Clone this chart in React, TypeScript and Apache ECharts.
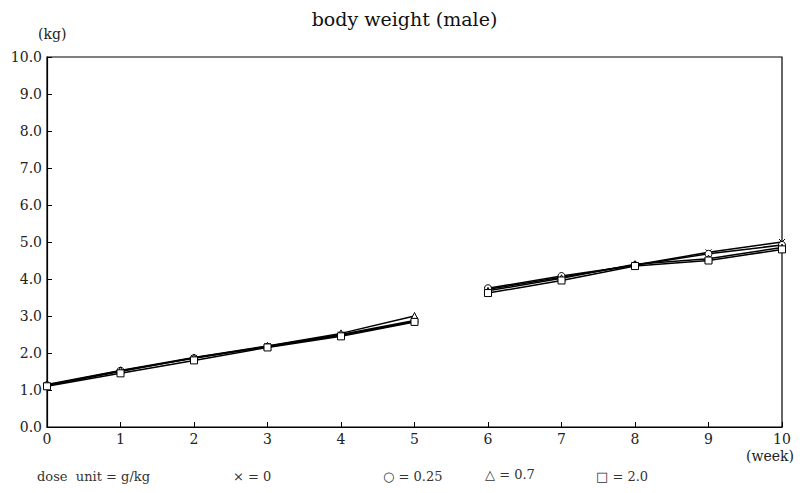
import React, { useEffect, useRef } from "react";
import * as echarts from "echarts";

const weeks = [0, 1, 2, 3, 4, 5, 6, 7, 8, 9, 10];
const dose0 = [1.12, 1.5, 1.87, 2.18, 2.5, 2.88, 3.72, 4.05, 4.38, 4.72, 5.0];
const dose025 = [1.13, 1.52, 1.86, 2.17, 2.48, 2.85, 3.75, 4.08, 4.37, 4.68, 4.92];
const dose07 = [1.15, 1.53, 1.88, 2.19, 2.53, 3.0, 3.68, 4.02, 4.4, 4.55, 4.85];
const dose20 = [1.1, 1.45, 1.8, 2.15, 2.45, 2.84, 3.62, 3.96, 4.35, 4.5, 4.8];
const gapAfterWeek = 5;
const seriesNames = ["×=0", "○=0.25", "△=0.7", "□=2.0"];
const legendTexts = ["dose  unit = g/kg", "× = 0", "○ = 0.25", "△ = 0.7", "□ = 2.0"];

const FONT = "DejaVu Serif";

function buildData(vals: number[]) {
  const out: any[] = [];
  weeks.forEach((w, i) => {
    out.push([w, vals[i]]);
    if (w === gapAfterWeek) out.push([w + 0.5, "-"]);
  });
  return out;
}

export default function App() {
  const ref = useRef<HTMLDivElement>(null);
  useEffect(() => {
    if (!ref.current) return;
    const chart = echarts.init(ref.current, null, { renderer: "svg" });
    const symbols = [
      "path://M0,0L10,10M10,0L0,10",
      "circle",
      "triangle",
      "rect",
    ];
    const allVals = [dose0, dose025, dose07, dose20];
    chart.setOption({
      animation: false,
      backgroundColor: "#fff",
      title: {
        text: "body weight (male)",
        left: "center",
        top: 4,
        textStyle: { fontFamily: FONT, fontSize: 19, fontWeight: "normal", color: "#111" },
      },
      grid: {
        left: 47,
        right: 27,
        top: 57,
        bottom: 66,
        show: true,
        borderColor: "#000",
        borderWidth: 1.2,
      },
      xAxis: {
        type: "value",
        min: 0,
        max: 10,
        interval: 1,
        splitLine: { show: false },
        axisLine: { lineStyle: { color: "#000", width: 1.2 } },
        axisTick: { inside: true, length: 5, lineStyle: { color: "#000" } },
        axisLabel: { fontFamily: FONT, fontSize: 14, color: "#222", margin: 5 },
      },
      yAxis: {
        type: "value",
        min: 0,
        max: 10,
        interval: 1,
        splitLine: { show: false },
        axisLine: { show: true, lineStyle: { color: "#000", width: 1.2 } },
        axisTick: { show: true, inside: true, length: 5, lineStyle: { color: "#000" } },
        axisLabel: {
          fontFamily: FONT,
          fontSize: 14,
          color: "#222",
          margin: 5,
          formatter: (v: number) => v.toFixed(1),
        },
      },
      graphic: [
        { type: "text", left: 38, top: 27, style: { text: "(kg)", font: `14px '${FONT}'`, fill: "#222" } },
        { type: "text", left: 746, top: 449, style: { text: "(week)", font: `14px '${FONT}'`, fill: "#222" } },
        { type: "text", left: 37, top: 470, style: { text: legendTexts[0], font: `13px '${FONT}'`, fill: "#333" } },
        { type: "text", left: 233, top: 470, style: { text: legendTexts[1], font: `13px '${FONT}'`, fill: "#333" } },
        { type: "text", left: 383, top: 470, style: { text: legendTexts[2], font: `13px '${FONT}'`, fill: "#333" } },
        { type: "text", left: 485, top: 468, style: { text: legendTexts[3], font: `13px '${FONT}'`, fill: "#333" } },
        { type: "text", left: 596, top: 470, style: { text: legendTexts[4], font: `13px '${FONT}'`, fill: "#333" } },
      ],
      series: allVals.map((vals, i) => ({
        name: seriesNames[i],
        type: "line",
        data: buildData(vals),
        connectNulls: false,
        symbol: symbols[i],
        symbolSize: i === 0 ? 6 : 7,
        showSymbol: true,
        lineStyle: { color: "#000", width: 1.5 },
        itemStyle: { color: "#fff", borderColor: "#000", borderWidth: 1 },
        z: 2 + i,
      })),
    });
    return () => chart.dispose();
  }, []);
  return <div ref={ref} style={{ width: 809, height: 493, position: "absolute", left: 0, top: 0 }} />;
}
